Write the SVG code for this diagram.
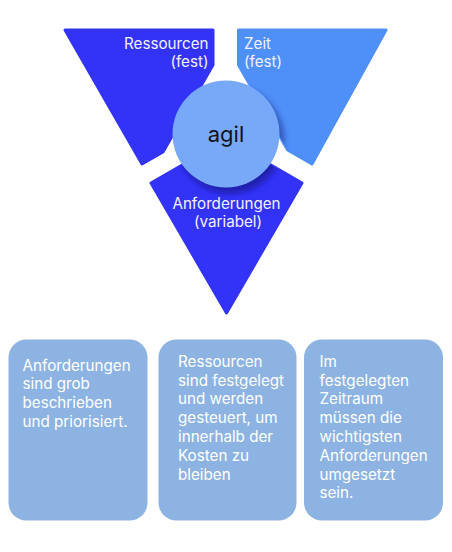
<svg xmlns="http://www.w3.org/2000/svg" width="452" height="552" viewBox="0 0 452 552">
  <style>
    .piece { stroke-linejoin: round; stroke-width: 3; }
    .dark { fill: #3333F8; stroke: #3333F8; }
    .light { fill: #4F8FF8; stroke: #4F8FF8; }
    .label { font-family: Inter, "Noto Sans", "Liberation Sans", sans-serif; font-size: 15.2px; fill: #F2F2FF; }
    .core { font-family: Inter, "Noto Sans", "Liberation Sans", sans-serif; font-size: 22px; fill: #111122; }
    .box { fill: #8DB3E2; }
    .boxtext { font-family: Inter, "Noto Sans", "Liberation Sans", sans-serif; font-size: 15.2px; fill: #FFFFFF; }
  </style>
  <defs>
    <clipPath id="pieces">
      <polygon points="65,30 213,30 213,65 163,152 142,164"/>
      <polygon points="386,30 238.5,30 238.5,65 287.6,150 312,164"/>
      <polygon points="151,183 226.5,139.5 302,183 226.5,313"/>
    </clipPath>
    <filter id="soft" x="-30%" y="-30%" width="160%" height="160%">
      <feGaussianBlur stdDeviation="3"/>
    </filter>
  </defs>

  <!-- three segments of the triangle -->
  <g id="ressourcen">
    <polygon class="piece dark" points="65,30 213,30 213,65 163,152 142,164"/>
    <text class="label" x="208.5" y="48.5" text-anchor="end">Ressourcen</text>
    <text class="label" x="208.5" y="66.5" text-anchor="end">(fest)</text>
  </g>
  <g id="zeit">
    <polygon class="piece light" points="386,30 238.5,30 238.5,65 287.6,150 312,164"/>
    <text class="label" x="244" y="48.5">Zeit</text>
    <text class="label" x="244" y="66.5">(fest)</text>
  </g>
  <g id="anforderungen">
    <polygon class="piece dark" points="151,183 226.5,139.5 302,183 226.5,313"/>
    <text class="label" x="226.5" y="208.5" text-anchor="middle">Anforderungen</text>
    <text class="label" x="228" y="226.5" text-anchor="middle">(variabel)</text>
  </g>

  <!-- centre circle with its shadow falling on the segments -->
  <g id="agil">
    <g clip-path="url(#pieces)">
      <circle cx="230" cy="140" r="53.5" fill="#0A0A60" opacity="0.5" filter="url(#soft)"/>
    </g>
    <circle cx="226" cy="134" r="53.5" fill="#78A9F8"/>
    <text class="core" x="226" y="142" text-anchor="middle">agil</text>
  </g>

  <!-- description boxes -->
  <g id="box-anforderungen">
    <rect class="box" x="8.5" y="339.5" width="139" height="181" rx="18"/>
    <text class="boxtext" x="22.5" y="370.5">Anforderungen</text>
    <text class="boxtext" x="22.5" y="389.2">sind grob</text>
    <text class="boxtext" x="22.5" y="407.9">beschrieben</text>
    <text class="boxtext" x="22.5" y="426.6">und priorisiert.</text>
  </g>
  <g id="box-ressourcen">
    <rect class="box" x="158.5" y="339.5" width="138" height="181" rx="18"/>
    <text class="boxtext" x="178" y="366.7">Ressourcen</text>
    <text class="boxtext" x="178" y="385.5">sind festgelegt</text>
    <text class="boxtext" x="178" y="404.3">und werden</text>
    <text class="boxtext" x="178" y="423.1">gesteuert, um</text>
    <text class="boxtext" x="178" y="441.9">innerhalb der</text>
    <text class="boxtext" x="178" y="460.7">Kosten zu</text>
    <text class="boxtext" x="178" y="479.5">bleiben</text>
  </g>
  <g id="box-zeit">
    <rect class="box" x="304" y="339.5" width="139" height="181" rx="18"/>
    <text class="boxtext" x="319.5" y="366.7">Im</text>
    <text class="boxtext" x="319.5" y="385.5">festgelegten</text>
    <text class="boxtext" x="319.5" y="404.3">Zeitraum</text>
    <text class="boxtext" x="319.5" y="423.1">müssen die</text>
    <text class="boxtext" x="319.5" y="441.9">wichtigsten</text>
    <text class="boxtext" x="319.5" y="460.7">Anforderungen</text>
    <text class="boxtext" x="319.5" y="479.5">umgesetzt</text>
    <text class="boxtext" x="319.5" y="498.3">sein.</text>
  </g>
</svg>
